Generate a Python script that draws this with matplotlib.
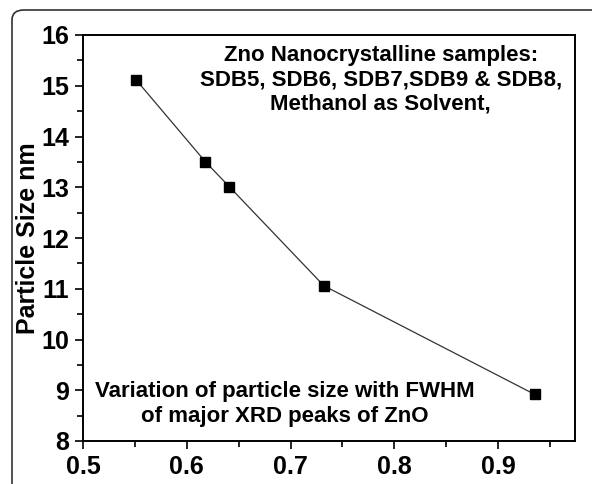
import matplotlib
matplotlib.use("Agg")
import matplotlib.pyplot as plt
from matplotlib.patches import FancyBboxPatch
from matplotlib.ticker import MultipleLocator

# FWHM of major XRD peaks vs particle size
fwhm = [0.551, 0.618, 0.641, 0.732, 0.935]
particle_size = [15.12, 13.50, 13.01, 11.06, 8.92]

x_ticks = [0.5, 0.6, 0.7, 0.8, 0.9]
y_ticks = [8, 9, 10, 11, 12, 13, 14, 15, 16]

plt.rcParams['font.family'] = ['Liberation Sans', 'DejaVu Sans']
plt.rcParams['font.weight'] = 'bold'

fig = plt.figure(figsize=(5.92, 4.84), dpi=100)

# rounded outer frame (open towards bottom/right like the source crop)
frame = FancyBboxPatch((12 / 592, -0.2), 1.5, (474 / 484) + 0.2,
                       boxstyle="round,pad=0,rounding_size=0.02",
                       transform=fig.transFigure, facecolor='none',
                       edgecolor='#333333', linewidth=1.2, zorder=0)
fig.patches.append(frame)

ax = fig.add_axes([83 / 592, 43 / 484, (575 - 83) / 592, (441 - 35) / 484])
ax.plot(fwhm, particle_size, color='#333333', linewidth=0.9,
        marker='s', markersize=7, markerfacecolor='black',
        markeredgecolor='black')

ax.set_xlim(0.5, 0.974)
ax.set_ylim(8, 16)
ax.set_xticks(x_ticks)
ax.set_yticks(y_ticks)
ax.set_xticklabels([str(v) for v in x_ticks])
ax.set_yticklabels([str(v) for v in y_ticks])
ax.xaxis.set_minor_locator(MultipleLocator(0.05))
ax.yaxis.set_minor_locator(MultipleLocator(0.5))
ax.tick_params(which='major', direction='out', length=6, width=1.2,
               labelsize=18, pad=4)
ax.tick_params(which='minor', direction='out', length=4, width=1.2)
ax.tick_params(top=False, right=False, which='both')
for s in ax.spines.values():
    s.set_linewidth(1.4)

ax.set_ylabel('Particle Size nm', fontsize=18, fontweight='bold', labelpad=1)

ax.text(0.605, 0.975,
        'Zno Nanocrystalline samples:\nSDB5, SDB6, SDB7,SDB9 & SDB8,\nMethanol as Solvent,',
        transform=ax.transAxes, ha='center', va='top', fontsize=16,
        fontweight='bold', linespacing=1.2)
ax.text(0.41, 0.147,
        'Variation of particle size with FWHM\nof major XRD peaks of ZnO',
        transform=ax.transAxes, ha='center', va='top', fontsize=16,
        fontweight='bold', linespacing=1.25)

fig.savefig('out.png', dpi=100)
